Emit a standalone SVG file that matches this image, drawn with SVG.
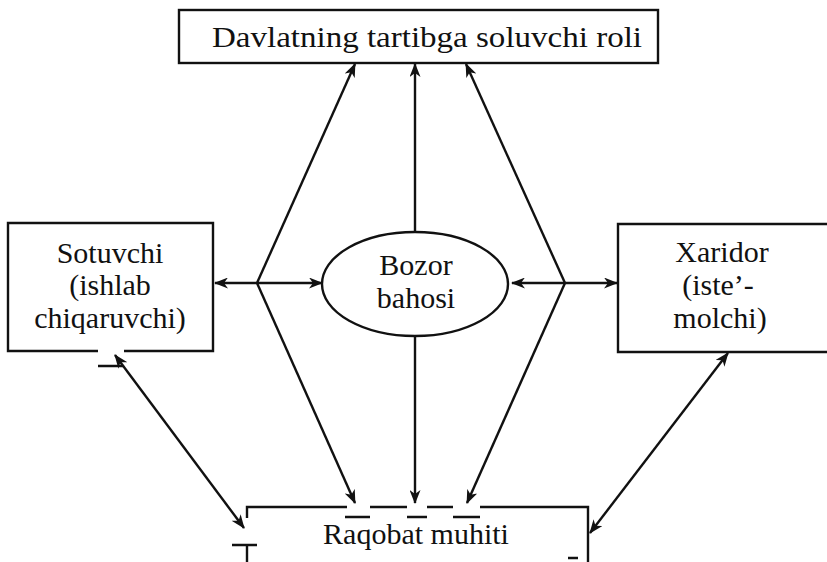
<svg xmlns="http://www.w3.org/2000/svg" width="827" height="562" viewBox="0 0 827 562">
<style>
.box{fill:none;stroke:#111;stroke-width:2.4}
.ln{fill:none;stroke:#111;stroke-width:2.4}
.t{font-family:"Liberation Serif","Times New Roman",serif;font-size:30px;fill:#111;text-anchor:middle}
</style>
<defs>
<marker id="ah" viewBox="0 0 14 11" refX="13" refY="5.5" markerWidth="14" markerHeight="11" markerUnits="userSpaceOnUse" orient="auto-start-reverse">
<path d="M0,0 L14,5.5 L0,11 L4,5.5 z" fill="#111"/>
</marker>
</defs>
<rect width="827" height="562" fill="#fff"/>
<g id="davlat">
<rect class="box" x="179" y="10" width="479" height="53"/>
<text class="t" x="427" y="47" font-size="32" textLength="430" lengthAdjust="spacingAndGlyphs">Davlatning tartibga soluvchi roli</text>
</g>
<g id="sotuvchi">
<path class="box" d="M98,351 L8,351 L8,223 L213,223 L213,351 L124,351 M98,366 L123,366"/>
<text class="t" x="110" y="263">Sotuvchi</text>
<text class="t" x="110" y="295">(ishlab</text>
<text class="t" x="110" y="328">chiqaruvchi)</text>
</g>
<g id="xaridor">
<path class="box" d="M827,224 L618,224 L618,352 L827,352"/>
<text class="t" x="722" y="262">Xaridor</text>
<text class="t" x="718" y="295">(iste’-</text>
<text class="t" x="720" y="328">molchi)</text>
</g>
<g id="bozor">
<ellipse class="box" cx="415" cy="284" rx="93" ry="52"/>
<text class="t" x="416" y="275">Bozor</text>
<text class="t" x="416" y="308">bahosi</text>
</g>
<g id="raqobat">
<path class="box" d="M247,518 L247,507 L347,507 M370,507 L407,507 M427,507 L453,507 M480,507 L588,507 L588,562 M345,517 L370,517 M407,517 L427,517 M453,517 L480,517 M232,545 L257,545 M247,545 L247,562 M568,558 L578,558"/>
<text class="t" x="416" y="544" font-size="31">Raqobat muhiti</text>
</g>
<g id="connectors">
<line class="ln" x1="257" y1="283" x2="215" y2="283" marker-end="url(#ah)"/>
<line class="ln" x1="257" y1="283" x2="322" y2="283" marker-end="url(#ah)"/>
<line class="ln" x1="257" y1="283" x2="355" y2="64" marker-end="url(#ah)"/>
<line class="ln" x1="257" y1="283" x2="355" y2="503" marker-end="url(#ah)"/>
<line class="ln" x1="415" y1="232" x2="415" y2="64" marker-end="url(#ah)"/>
<line class="ln" x1="415" y1="336" x2="415" y2="503" marker-end="url(#ah)"/>
<line class="ln" x1="565" y1="283" x2="466" y2="64" marker-end="url(#ah)"/>
<line class="ln" x1="565" y1="283" x2="467" y2="503" marker-end="url(#ah)"/>
<line class="ln" x1="565" y1="283" x2="512" y2="283" marker-end="url(#ah)"/>
<line class="ln" x1="565" y1="283" x2="617" y2="283" marker-end="url(#ah)"/>
<line class="ln" x1="115" y1="355" x2="244" y2="528" marker-start="url(#ah)" marker-end="url(#ah)"/>
<line class="ln" x1="728" y1="353" x2="590" y2="533" marker-start="url(#ah)" marker-end="url(#ah)"/>
</g>
</svg>
